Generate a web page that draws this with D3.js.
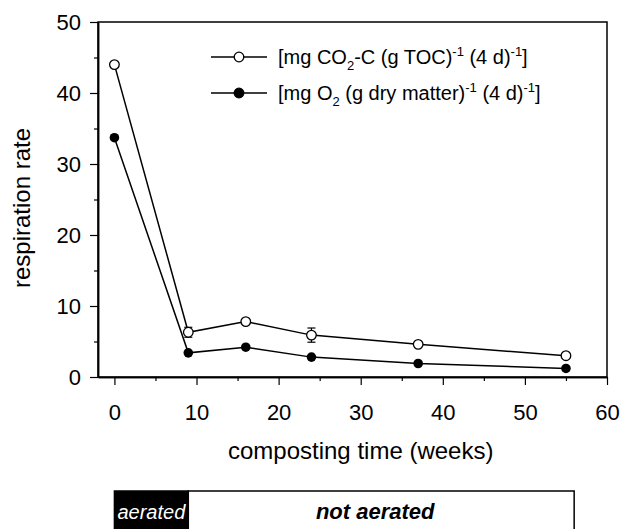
<!DOCTYPE html>
<html>
<head>
<meta charset="utf-8">
<script src="https://cdn.jsdelivr.net/npm/d3@7"></script>
<style>
  body { margin: 0; background: #fff; }
  text { font-family: "Liberation Sans", Arial, sans-serif; }
</style>
</head>
<body>
<svg id="chart"></svg>
<script>
// Data
const weeks = [0, 9, 16, 24, 37, 55];
const co2Rate = [44.0, 6.3, 7.8, 5.9, 4.6, 3.0];
const co2Err = [0, 0.7, 0, 1.0, 0, 0];
const o2Rate = [33.7, 3.4, 4.2, 2.8, 1.9, 1.2];

const yMajor = [0, 10, 20, 30, 40, 50];
const yMinor = [5, 15, 25, 35, 45];
const xMajor = [0, 10, 20, 30, 40, 50, 60];
const xMinor = [5, 15, 25, 35, 45, 55];

const phaseNames = ["aerated", "not aerated"];
const phaseStart = [0, 9];
const phaseEnd = [9, 56];

const width = 628, height = 529;
const margin = {top: 22, bottom: 152, left: 98, right: 21};

const svg = d3.select("#chart")
    .attr("width", width)
    .attr("height", height);

// Scales
const xScale = d3.scaleLinear()
    .domain([-2, 60])
    .range([margin.left, width - margin.right]);

const yScale = d3.scaleLinear()
    .domain([0, 50])
    .range([height - margin.bottom, margin.top]);

// Frame
svg.append("rect")
    .attr("x", margin.left)
    .attr("y", margin.top)
    .attr("width", width - margin.right - margin.left)
    .attr("height", height - margin.bottom - margin.top)
    .attr("fill", "none")
    .attr("stroke", "black")
    .attr("stroke-width", 1.5);

// Axes (major + minor ticks)
const tickFont = "22px";
const titleFont = "24px";

svg.append("g")
    .attr("transform", `translate(${margin.left}, 0)`)
    .call(d3.axisLeft(yScale).tickValues(yMajor).tickSize(8).tickPadding(9).tickSizeOuter(0));
svg.append("g")
    .attr("transform", `translate(${margin.left}, 0)`)
    .call(d3.axisLeft(yScale).tickValues(yMinor).tickSize(4).tickFormat("").tickSizeOuter(0));

svg.append("g")
    .attr("transform", `translate(0, ${height - margin.bottom})`)
    .call(d3.axisBottom(xScale).tickValues(xMajor).tickSize(8).tickPadding(19).tickSizeOuter(0));
svg.append("g")
    .attr("transform", `translate(0, ${height - margin.bottom})`)
    .call(d3.axisBottom(xScale).tickValues(xMinor).tickSize(4).tickFormat("").tickSizeOuter(0));

svg.selectAll(".domain").attr("stroke-width", 1.5);
svg.selectAll(".tick line").attr("stroke-width", 1.2);
svg.selectAll(".tick text")
    .style("font-size", tickFont)
    .style("font-family", "'Liberation Sans', Arial, sans-serif")
    .attr("fill", "black");

// Axis labels
svg.append("text")
    .attr("x", xScale(30))
    .attr("y", 459)
    .text("composting time (weeks)")
    .style("text-anchor", "middle")
    .style("font-size", titleFont);

svg.append("text")
    .attr("x", -208)
    .attr("y", 30)
    .text("respiration rate")
    .style("text-anchor", "middle")
    .style("font-size", titleFont)
    .attr("transform", "rotate(-90)");

// Lines
const line = d3.line()
    .x(d => xScale(d[0]))
    .y(d => yScale(d[1]));

const co2Data = weeks.map((w, i) => [w, co2Rate[i], co2Err[i]]);
const o2Data = weeks.map((w, i) => [w, o2Rate[i]]);

[co2Data, o2Data].forEach(data => {
    svg.append("path")
        .datum(data)
        .attr("d", line)
        .attr("fill", "none")
        .attr("stroke", "black")
        .attr("stroke-width", 1.5);
});

// Error bars
co2Data.filter(d => d[2] > 0).forEach(d => {
    const x = xScale(d[0]);
    const y1 = yScale(d[1] - d[2]);
    const y2 = yScale(d[1] + d[2]);
    svg.append("line")
        .attr("x1", x).attr("x2", x)
        .attr("y1", y1).attr("y2", y2)
        .attr("stroke", "black").attr("stroke-width", 1.2);
    [y1, y2].forEach(y => {
        svg.append("line")
            .attr("x1", x - 4).attr("x2", x + 4)
            .attr("y1", y).attr("y2", y)
            .attr("stroke", "black").attr("stroke-width", 1.2);
    });
});

// Markers
svg.selectAll(".pt-o2")
    .data(o2Data)
    .enter().append("circle")
    .attr("cx", d => xScale(d[0]))
    .attr("cy", d => yScale(d[1]))
    .attr("r", 4.8)
    .attr("fill", "black");

svg.selectAll(".pt-co2")
    .data(co2Data)
    .enter().append("circle")
    .attr("cx", d => xScale(d[0]))
    .attr("cy", d => yScale(d[1]))
    .attr("r", 4.8)
    .attr("fill", "white")
    .attr("stroke", "black")
    .attr("stroke-width", 1.3);

// Legend
const legendRows = [
    {fill: "white", y: 57, parts: [["[mg CO", ""], ["2", "sub"], ["-C (g TOC)", ""], ["-1", "sup"], [" (4 d)", ""], ["-1", "sup"], ["]", ""]]},
    {fill: "black", y: 93, parts: [["[mg O", ""], ["2", "sub"], [" (g dry matter)", ""], ["-1", "sup"], [" (4 d)", ""], ["-1", "sup"], ["]", ""]]}
];
const off = {"sub": 6, "sup": -8, "": 0};

legendRows.forEach(row => {
    svg.append("line")
        .attr("x1", 211).attr("x2", 267)
        .attr("y1", row.y).attr("y2", row.y)
        .attr("stroke", "black").attr("stroke-width", 1.5);
    svg.append("circle")
        .attr("cx", 239).attr("cy", row.y).attr("r", 4.8)
        .attr("fill", row.fill)
        .attr("stroke", "black").attr("stroke-width", 1.3);
    const t = svg.append("text")
        .attr("x", 278)
        .attr("y", row.y + 7)
        .style("font-size", "20px");
    row.parts.forEach((p, i) => {
        const prev = i > 0 ? row.parts[i - 1][1] : "";
        t.append("tspan")
            .text(p[0])
            .attr("dy", off[p[1]] - off[prev])
            .style("font-size", p[1] ? "13px" : "20px");
    });
});

// Phase bar
const barTop = 491, barBottom = 529;
phaseNames.forEach((name, i) => {
    const x0 = xScale(phaseStart[i]), x1 = xScale(phaseEnd[i]);
    const dark = i === 0;
    svg.append("rect")
        .attr("x", x0)
        .attr("y", barTop)
        .attr("width", x1 - x0)
        .attr("height", barBottom - barTop + 2)
        .attr("fill", dark ? "black" : "white")
        .attr("stroke", "black")
        .attr("stroke-width", 1.5);
    svg.append("text")
        .attr("x", (x0 + x1) / 2 - (dark ? 0 : 6))
        .attr("y", 519)
        .text(name)
        .style("text-anchor", "middle")
        .style("font-size", dark ? "20px" : "22px")
        .style("font-style", "italic")
        .style("font-weight", dark ? "normal" : "bold")
        .attr("fill", dark ? "white" : "black");
});
</script>
</body>
</html>
